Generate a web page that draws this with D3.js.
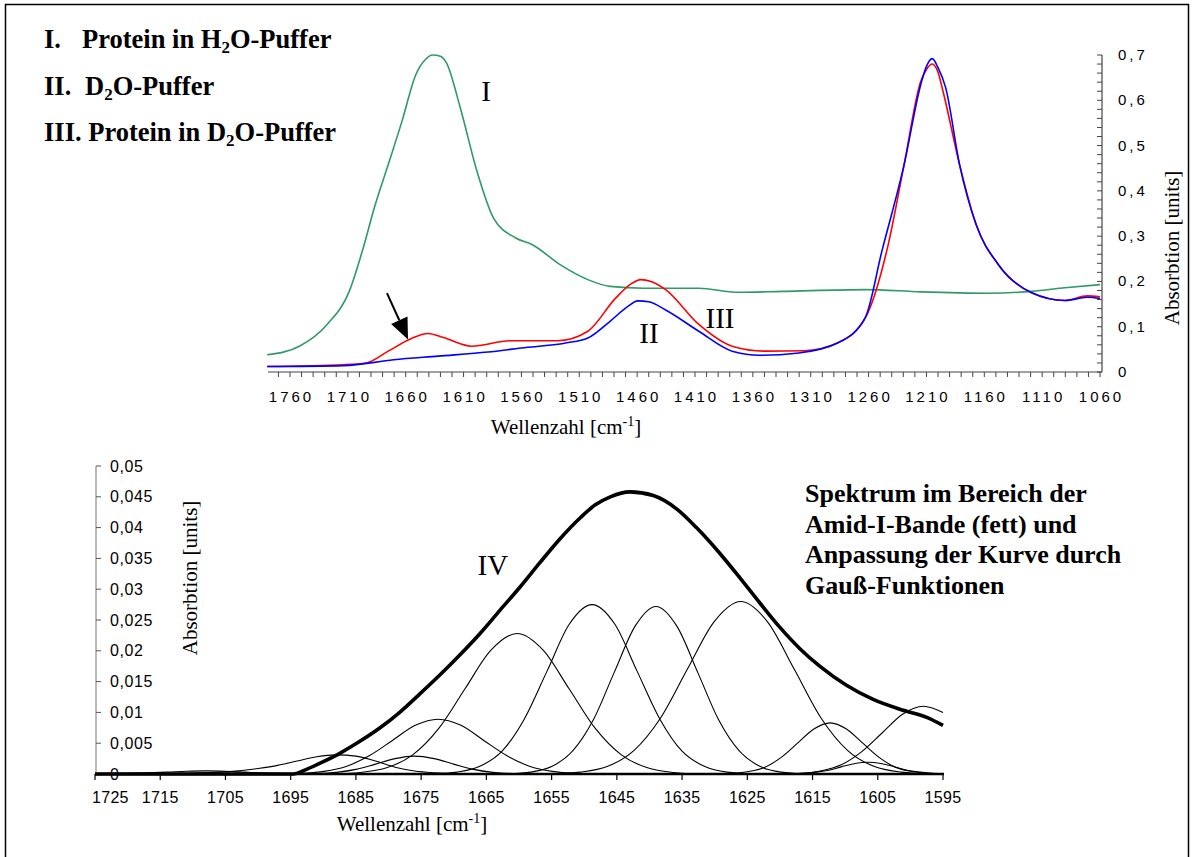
<!DOCTYPE html>
<meta charset="utf-8">
<style>
body { margin: 0; background: #fff; }
svg { display: block; }
.tick-label { font-family: "Liberation Sans", Arial, sans-serif; font-size: 15px; fill: #000; }
.serif { font-family: "Liberation Serif", "Times New Roman", serif; fill: #000; }
</style>
<svg width="1194" height="857"></svg>
<script src="https://cdn.jsdelivr.net/npm/d3@7"></script>
<script>
// ---- data: top spectra, [wavenumber, absorption] ----
var proteinH2O = [
  [1779.7, 0.038], [1751.9, 0.057], [1727.9, 0.105], [1708.8, 0.178], [1696.7, 0.274],
  [1687.2, 0.362], [1675.1, 0.458], [1663.2, 0.554], [1651.2, 0.657], [1643, 0.690],
  [1636.9, 0.700], [1630, 0.697], [1624.9, 0.683], [1612.8, 0.583], [1598.5, 0.444],
  [1584.1, 0.340], [1564.9, 0.296], [1550.5, 0.281], [1526.6, 0.237], [1502.6, 0.204],
  [1483.4, 0.189], [1454.6, 0.185], [1406.7, 0.185], [1373.1, 0.176], [1334.7, 0.178],
  [1262.9, 0.182], [1214.9, 0.177], [1157.4, 0.174], [1119.1, 0.178], [1090.3, 0.186],
  [1060, 0.193]
];
var d2oBuffer = [
  [1779.7, 0.012], [1713.5, 0.014], [1670.4, 0.027], [1632.0, 0.035], [1588.9, 0.044],
  [1560.1, 0.053], [1521.8, 0.064], [1502.6, 0.075], [1483.4, 0.112], [1468, 0.145],
  [1459.4, 0.157], [1450, 0.155], [1435.4, 0.137], [1406.7, 0.090], [1377.9, 0.046],
  [1353.9, 0.037], [1320.4, 0.042], [1286.9, 0.064], [1262.9, 0.120], [1248.5, 0.267],
  [1229.3, 0.458], [1214.9, 0.635], [1210, 0.675], [1205, 0.692], [1200, 0.672],
  [1193.4, 0.628], [1181.4, 0.458], [1167.0, 0.325], [1147.8, 0.237], [1119.1, 0.175],
  [1090.3, 0.158], [1071.1, 0.165], [1060, 0.162]
];
var proteinD2O = [
  [1779.7, 0.012], [1713.5, 0.016], [1694.3, 0.020], [1675.1, 0.046], [1656.0, 0.073],
  [1640.7, 0.085], [1627.3, 0.076], [1603.2, 0.057], [1569.7, 0.069], [1528.9, 0.069],
  [1502.6, 0.090], [1478.6, 0.163], [1465, 0.195], [1457.0, 0.204], [1448, 0.200],
  [1435.4, 0.182], [1406.7, 0.105], [1377.9, 0.057], [1349.2, 0.046], [1315.6, 0.047],
  [1286.9, 0.064], [1262.9, 0.119], [1243.7, 0.274], [1229.3, 0.458], [1214.9, 0.642],
  [1210, 0.668], [1205, 0.680], [1200, 0.662], [1195.7, 0.620], [1181.4, 0.458],
  [1167.0, 0.325], [1147.8, 0.237], [1119.1, 0.175], [1090.3, 0.158], [1071.1, 0.168],
  [1060, 0.166]
];

// ---- data: bottom, amide I band and fitted Gaussian components ----
var amideI = [
  [1725, 0], [1694.6, 0], [1692.5, 0.0008], [1690.0, 0.0020], [1687.4, 0.0034],
  [1684.4, 0.0053], [1681.3, 0.0075], [1678.2, 0.0101], [1675.2, 0.0130], [1672.1, 0.0161],
  [1669.0, 0.0194], [1665.9, 0.0229], [1662.9, 0.0266], [1659.8, 0.0304], [1656.8, 0.0343],
  [1653.7, 0.0382], [1650.6, 0.0416], [1648.3, 0.0437], [1646.0, 0.0450], [1643.0, 0.0458],
  [1639.4, 0.0452], [1635.8, 0.0430], [1632.8, 0.0400], [1629.2, 0.0358], [1626.1, 0.0318],
  [1623.1, 0.0278], [1620.0, 0.0238], [1616.9, 0.0203], [1613.9, 0.0175], [1609.8, 0.0144],
  [1605.7, 0.0121], [1601.6, 0.0105], [1597.5, 0.0092], [1595, 0.0079]
];
var band0 = [[1725, 0], [1720, 0.0001], [1717, 0.0002], [1714, 0.0003], [1711, 0.00044], [1708, 0.0005],
  [1705, 0.00044], [1702, 0.0003], [1699, 0.00016], [1696, 0.00007], [1692, 0]];
var band1 = [[1712, 0], [1706, 0.0003], [1703, 0.0005], [1700, 0.0009], [1697, 0.0014], [1694, 0.0021],
  [1691, 0.0028], [1688, 0.0031], [1685, 0.0029], [1682, 0.0021], [1679, 0.0011], [1676, 0.0005],
  [1673, 0.0002], [1668, 0]];
var band2 = [[1697, 0], [1694, 0.00001], [1691, 0.00007], [1688, 0.00027], [1685, 0.00075], [1682, 0.0016],
  [1679, 0.0025], [1676, 0.0029], [1673, 0.0025], [1670, 0.0016], [1667, 0.00075], [1664, 0.00027],
  [1661, 0.00007], [1656, 0]];
var band3 = [[1697, 0], [1693.4, 0.00011], [1689.9, 0.00043], [1686.4, 0.00127], [1682.9, 0.0030],
  [1679.4, 0.00545], [1675.9, 0.0079], [1672.4, 0.0089], [1668.9, 0.0079], [1665.4, 0.00545],
  [1661.9, 0.0030], [1658.4, 0.00127], [1654.9, 0.00043], [1651.4, 0.00011], [1647, 0]];
var band4 = [[1688, 0], [1684.3, 0.00025], [1680.3, 0.0010], [1676.3, 0.0031], [1672.3, 0.0074],
  [1668.3, 0.0138], [1664.3, 0.0201], [1660.3, 0.0228], [1656.3, 0.0201], [1652.3, 0.0138],
  [1648.3, 0.0074], [1644.3, 0.0031], [1640.3, 0.0010], [1636.3, 0.00025], [1632, 0]];
var band5 = [[1673, 0], [1669.5, 0.0003], [1666.1, 0.0012], [1662.6, 0.0037], [1659.2, 0.0089],
  [1655.7, 0.0167], [1652.3, 0.0243], [1648.8, 0.0275], [1645.3, 0.0243], [1641.9, 0.0167],
  [1638.4, 0.0089], [1635.0, 0.0037], [1631.5, 0.0012], [1628.1, 0.0003], [1624, 0]];
var band6 = [[1662, 0], [1658.2, 0.0003], [1655.0, 0.0012], [1651.8, 0.0037], [1648.6, 0.0088],
  [1645.4, 0.0165], [1642.2, 0.0240], [1639.0, 0.0272], [1635.8, 0.0240], [1632.6, 0.0165],
  [1629.4, 0.0088], [1626.2, 0.0037], [1623.0, 0.0012], [1619.8, 0.0003], [1616, 0]];
var band7 = [[1655, 0], [1650.6, 0.0003], [1646.5, 0.0012], [1642.4, 0.0038], [1638.3, 0.0091],
  [1634.2, 0.0170], [1630.1, 0.0247], [1626.0, 0.0280], [1621.9, 0.0247], [1617.8, 0.0170],
  [1613.7, 0.0091], [1609.6, 0.0038], [1605.5, 0.0012], [1601.4, 0.0003], [1597, 0]];
var band8 = [[1630, 0], [1627.3, 0.0001], [1624.8, 0.0004], [1622.3, 0.0011], [1619.8, 0.0027],
  [1617.3, 0.0050], [1614.8, 0.0073], [1612.3, 0.0083], [1609.8, 0.0073], [1607.3, 0.0050],
  [1604.8, 0.0027], [1602.3, 0.0011], [1599.8, 0.0004], [1597.3, 0.0001], [1595, 0.00003]];
var band9 = [[1620, 0], [1616.9, 0.0001], [1613.8, 0.0005], [1610.6, 0.0015], [1607.5, 0.0036],
  [1604.3, 0.0067], [1601.2, 0.0097], [1598.0, 0.0110], [1595, 0.0100]];
var band10 = [[1620, 0], [1616.5, 0.0001], [1614.5, 0.0003], [1612.5, 0.0006], [1610.5, 0.0012],
  [1608.5, 0.0017], [1606.5, 0.0019], [1604.5, 0.0017], [1602.5, 0.0012], [1600.5, 0.0006],
  [1598.5, 0.0003], [1596.5, 0.0001], [1595, 0.00005]];
var bands = [band0, band1, band2, band3, band4, band5, band6, band7, band8, band9, band10];

// ---- ticks ----
var topXLabels = d3.range(1760, 1059, -50);
var topXTicks = d3.range(1770, 1059, -10);
var topYLabels = [0, 0.1, 0.2, 0.3, 0.4, 0.5, 0.6, 0.7];
var topYTicks = d3.range(0, 0.701, 0.02);
var botXLabels = d3.range(1725, 1594, -10);
var botYLabels = d3.range(0, 0.0501, 0.005);

// ---- annotations in data units ----
var arrowTop = { from: [1676.2, 0.174], to: [1658, 0.072] };
var topMarks = [["I", 1590.6, 0.598], ["II", 1449.8, 0.064], ["III", 1388.4, 0.097]];
var legendLines = [
  { num: "I.", numX: 44, x: 82, parts: [["Protein in H"], ["2", 1], ["O-Puffer"]] },
  { num: "II.", numX: 44, x: 85, parts: [["D"], ["2", 1], ["O-Puffer"]] },
  { num: "", numX: 44, x: 44, parts: [["III. Protein in D"], ["2", 1], ["O-Puffer"]] }
];
var noteLines = ["Spektrum im Bereich der", "Amid-I-Bande (fett) und",
  "Anpassung der Kurve durch", "Gauß-Funktionen"];

var comma = function(v) { return String(+v.toFixed(3)).replace(".", ","); };

var svg = d3.select("svg");
svg.append("rect").attr("x", 5.5).attr("y", 4.5).attr("width", 1183).attr("height", 860)
  .attr("fill", "none").attr("stroke", "#000").attr("stroke-width", 1.5);

// ================= top chart =================
var x1 = d3.scaleLinear().domain([1779, 1058.3]).range([268, 1102]);
var y1 = d3.scaleLinear().domain([0, 0.7]).range([372, 55]);
var topG = svg.append("g");

var line1 = d3.line().x(function(d) { return x1(d[0]); }).y(function(d) { return y1(d[1]); })
  .curve(d3.curveMonotoneX);

[[proteinH2O, "#2f9a66"], [proteinD2O, "#ff0000"], [d2oBuffer, "#0000ff"]].forEach(function(s) {
  topG.append("path").datum(s[0]).attr("d", line1).attr("fill", "none")
    .attr("stroke", s[1]).attr("stroke-width", 1.6);
});

// x axis
topG.append("line").attr("x1", 268).attr("x2", 1102).attr("y1", 372).attr("y2", 372)
  .attr("stroke", "#444").attr("stroke-width", 1.2);
topG.selectAll(".xt").data(topXTicks).enter().append("line")
  .attr("x1", function(d) { return x1(d); }).attr("x2", function(d) { return x1(d); })
  .attr("y1", 372).attr("y2", 377).attr("stroke", "#444");
topG.selectAll(".xl").data(topXLabels).enter().append("text")
  .attr("class", "tick-label").attr("x", function(d) { return x1(d) + 1.5; }).attr("y", 402)
  .attr("text-anchor", "middle").style("letter-spacing", "3px").text(function(d) { return d; });

// right y axis
topG.append("line").attr("x1", 1102).attr("x2", 1102).attr("y1", y1(0.7)).attr("y2", 372)
  .attr("stroke", "#444").attr("stroke-width", 1.2);
topG.selectAll(".yt").data(topYTicks).enter().append("line")
  .attr("x1", 1097).attr("x2", 1102)
  .attr("y1", function(d) { return y1(d); }).attr("y2", function(d) { return y1(d); })
  .attr("stroke", "#444");
topG.selectAll(".yl").data(topYLabels).enter().append("text")
  .attr("class", "tick-label").attr("x", 1118).attr("y", function(d) { return y1(d) + 5; })
  .style("letter-spacing", "3px").text(function(d) { return comma(d); });

topG.append("text").attr("class", "serif").attr("font-size", 21)
  .attr("transform", "translate(1179,248) rotate(-90)").attr("text-anchor", "middle")
  .text("Absorbtion [units]");

var wz1 = topG.append("text").attr("class", "serif").attr("font-size", 21)
  .attr("x", 566).attr("y", 434).attr("text-anchor", "middle");
wz1.append("tspan").text("Wellenzahl [cm");
wz1.append("tspan").attr("font-size", 14).attr("dy", -8).text("-1");
wz1.append("tspan").attr("dy", 8).text("]");

// arrow
var ax0 = x1(arrowTop.from[0]), ay0 = y1(arrowTop.from[1]);
var ax1 = x1(arrowTop.to[0]), ay1 = y1(arrowTop.to[1]);
var len = Math.hypot(ax1 - ax0, ay1 - ay0), ux = (ax1 - ax0) / len, uy = (ay1 - ay0) / len;
var bx = ax1 - ux * 21, by = ay1 - uy * 21;
topG.append("line").attr("x1", ax0).attr("y1", ay0).attr("x2", bx).attr("y2", by)
  .attr("stroke", "#000").attr("stroke-width", 2);
topG.append("path").attr("fill", "#000")
  .attr("d", "M" + ax1 + "," + ay1 + "L" + (bx - uy * 9) + "," + (by + ux * 9) +
    "L" + (bx + uy * 9) + "," + (by - ux * 9) + "Z");

topG.selectAll(".mk").data(topMarks).enter().append("text")
  .attr("class", "serif").attr("font-size", 29).attr("text-anchor", "middle")
  .attr("x", function(d) { return x1(d[1]); }).attr("y", function(d) { return y1(d[2]); })
  .text(function(d) { return d[0]; });

// legend
legendLines.forEach(function(l, i) {
  var yy = 48 + i * 46.5;
  if (l.num) svg.append("text").attr("class", "serif").attr("font-size", 26.5)
    .attr("font-weight", "bold").attr("x", l.numX).attr("y", yy).text(l.num);
  var t = svg.append("text").attr("class", "serif").attr("font-size", 26.5)
    .attr("font-weight", "bold").attr("x", l.x).attr("y", yy);
  l.parts.forEach(function(p) {
    var sp = t.append("tspan").text(p[0]);
    if (p[1]) sp.attr("font-size", 17).attr("dy", 5);
    else if (t.selectAll("tspan").size() > 1) sp.attr("dy", -5);
  });
});

// ================= bottom chart =================
var x2 = d3.scaleLinear().domain([1725, 1595]).range([95, 943]);
var y2 = d3.scaleLinear().domain([0, 0.05]).range([774, 466]);
var botG = svg.append("g");
var line2 = d3.line().x(function(d) { return x2(d[0]); }).y(function(d) { return y2(d[1]); })
  .curve(d3.curveMonotoneX);

botG.selectAll(".band").data(bands).enter().append("path")
  .attr("d", line2).attr("fill", "none").attr("stroke", "#000").attr("stroke-width", 1.1);
botG.append("path").datum(amideI).attr("d", line2).attr("fill", "none")
  .attr("stroke", "#000").attr("stroke-width", 3.6).attr("stroke-linejoin", "round");

// y axis (left, labels inside)
botG.append("line").attr("x1", 96).attr("x2", 96).attr("y1", y2(0.05)).attr("y2", 774)
  .attr("stroke", "#777").attr("stroke-width", 1);
botG.selectAll(".yt").data(botYLabels).enter().append("line")
  .attr("x1", 96).attr("x2", 101)
  .attr("y1", function(d) { return y2(d); }).attr("y2", function(d) { return y2(d); })
  .attr("stroke", "#555");
botG.selectAll(".yl").data(botYLabels).enter().append("text")
  .attr("class", "tick-label").attr("x", 110).attr("y", function(d) { return y2(d) + 5.5; })
  .style("font-size", "16px").style("letter-spacing", "0.6px").text(function(d) { return comma(d); });

// x axis
botG.append("line").attr("x1", 95).attr("x2", 944).attr("y1", 774).attr("y2", 774)
  .attr("stroke", "#000").attr("stroke-width", 2.5);
botG.selectAll(".xt").data(botXLabels).enter().append("line")
  .attr("x1", function(d) { return x2(d); }).attr("x2", function(d) { return x2(d); })
  .attr("y1", 774).attr("y2", 780).attr("stroke", "#000").attr("stroke-width", 1.2);
botG.selectAll(".xl").data(botXLabels).enter().append("text")
  .attr("class", "tick-label")
  .attr("x", function(d, i) { return i === 0 ? x2(d) - 3 : x2(d); }).attr("y", 803)
  .attr("text-anchor", function(d, i) { return i === 0 ? "start" : "middle"; })
  .style("font-size", "16px").style("letter-spacing", "0.3px").text(function(d) { return d; });

botG.append("text").attr("class", "serif").attr("font-size", 21)
  .attr("transform", "translate(197,578) rotate(-90)").attr("text-anchor", "middle")
  .text("Absorbtion [units]");
var wz2 = botG.append("text").attr("class", "serif").attr("font-size", 21)
  .attr("x", 412).attr("y", 831).attr("text-anchor", "middle");
wz2.append("tspan").text("Wellenzahl [cm");
wz2.append("tspan").attr("font-size", 14).attr("dy", -8).text("-1");
wz2.append("tspan").attr("dy", 8).text("]");

botG.append("text").attr("class", "serif").attr("font-size", 29).attr("text-anchor", "middle")
  .attr("x", x2(1664)).attr("y", y2(0.0323)).text("IV");

botG.selectAll(".note").data(noteLines).enter().append("text")
  .attr("class", "serif").attr("font-size", 26).attr("font-weight", "bold")
  .attr("x", 805).attr("y", function(d, i) { return 502 + i * 30.5; })
  .text(function(d) { return d; });
</script>
